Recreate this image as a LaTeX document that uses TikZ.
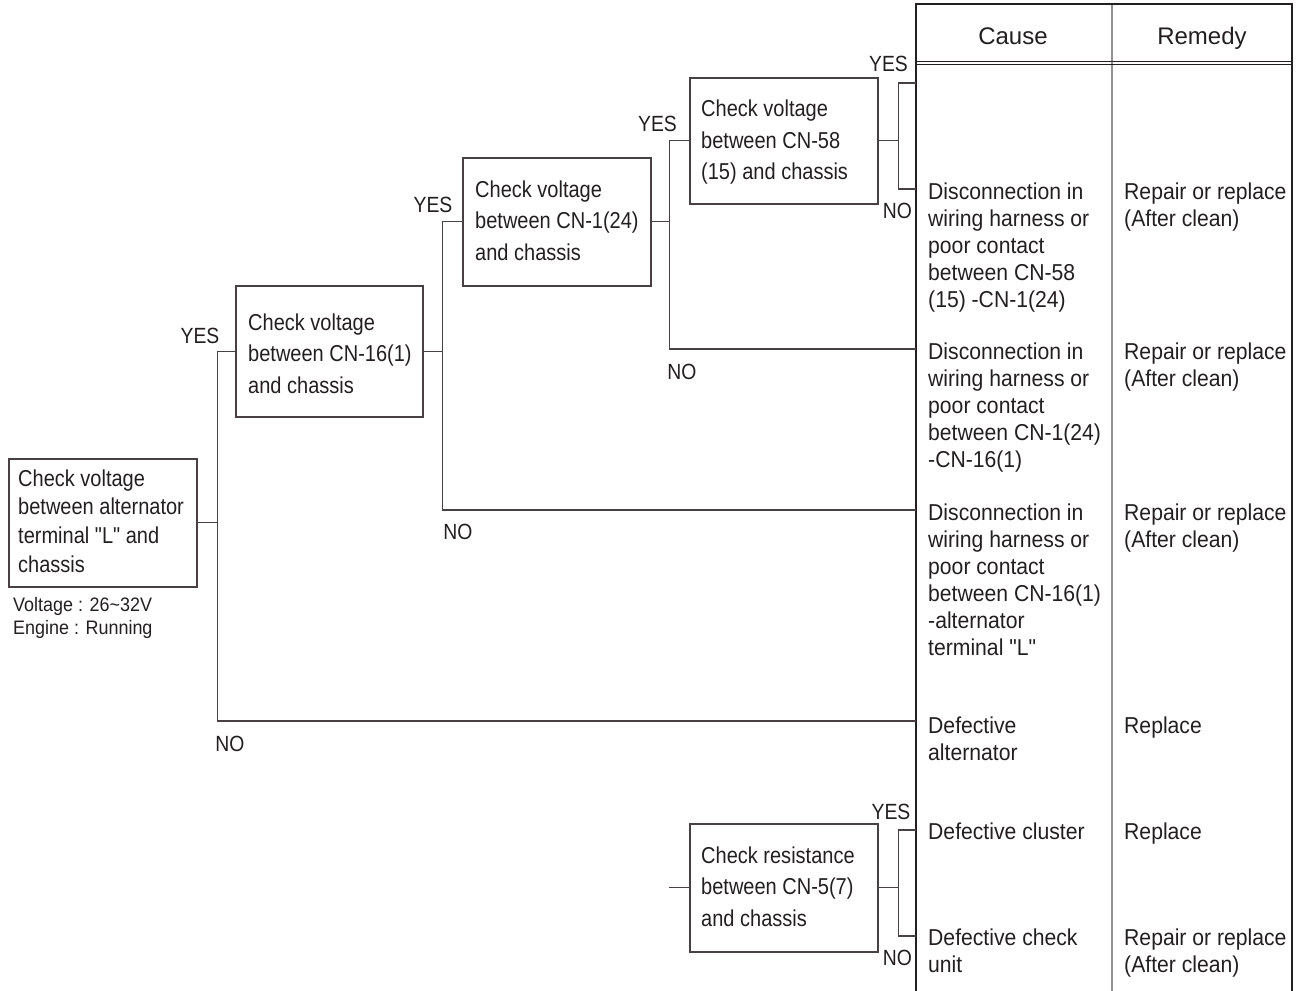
\documentclass[tikz,border=0pt]{standalone}
\usepackage{fontspec}
\setmainfont{Liberation Sans}[Ligatures=TeXOff]
\newfontfamily\hdrfont{Liberation Sans}[Ligatures=TeXOff]
\newfontfamily\tabfont{Liberation Sans}[FakeStretch=0.92,Ligatures=TeXOff]
\newfontfamily\boxfont{Liberation Sans}[FakeStretch=0.87,Ligatures=TeXOff]
\newfontfamily\lblfont{Liberation Sans}[FakeStretch=0.88,Ligatures=TeXOff]
\newfontfamily\notefont{Liberation Sans}[FakeStretch=0.92,Ligatures=TeXOff]
\definecolor{ink}{RGB}{35,31,32}
\definecolor{wire}{RGB}{72,64,66}
\newcommand\ml[1]{\parbox[t]{300pt}{\raggedright #1}}
\begin{document}
\begin{tikzpicture}[x=1pt,y=-1pt,
  box/.style={draw=wire, line width=1.6pt, inner sep=0pt, anchor=north west, minimum width=188pt, minimum height=128pt},
  wire/.style={draw=wire, line width=1.3pt},
  frame/.style={draw=ink, line width=2pt},
  sepline/.style={draw=gray!85, line width=1.3pt},
  btext/.style={anchor=base west, inner sep=0pt, text=ink, font=\boxfont\fontsize{23}{31.7}\selectfont},
  ttext/.style={anchor=base west, inner sep=0pt, text=ink, font=\tabfont\fontsize{23}{27}\selectfont},
  hdr/.style={anchor=base, inner sep=0pt, text=ink, font=\hdrfont\fontsize{24}{28}\selectfont},
  lbl/.style={anchor=base, inner sep=0pt, text=ink, font=\lblfont\fontsize{22}{26}\selectfont},
  note/.style={anchor=base west, inner sep=0pt, text=ink, font=\notefont\fontsize{19.5}{23.3}\selectfont}
]
\useasboundingbox (0,0) rectangle (1302,991);

% table frame
\draw[sepline] (1112,4) -- (1112,991);
\draw[frame] (916,991) -- (916,4) -- (1292,4) -- (1292,991);
\draw[ink, line width=1pt] (916,61.5) -- (1292,61.5);
\draw[ink, line width=1pt] (916,64.5) -- (1292,64.5);
\node[hdr] (hc) at (1013,44) {Cause};
\node[hdr] (hr) at (1202,44) {Remedy};

% boxes
\node[box] (A) at (8,458) {};
\node[box, minimum width=187pt, minimum height=131pt] (B) at (235,285) {};
\node[box] (C) at (462,157) {};
\node[box, minimum height=126pt] (D) at (689,77) {};
\node[box] (E) at (689,823) {};

\node[btext, font=\boxfont\fontsize{23}{28.7}\selectfont] (At) at (18,486) {\ml{Check voltage\\between alternator\\terminal "L" and\\chassis}};
\node[btext] (Bt) at (248,330) {\ml{Check voltage\\between CN-16(1)\\and chassis}};
\node[btext] (Ct) at (475,197) {\ml{Check voltage\\between CN-1(24)\\and chassis}};
\node[btext] (Dt) at (701,116.5) {\ml{Check voltage\\between CN-58\\(15) and chassis}};
\node[btext] (Et) at (701,863) {\ml{Check resistance\\between CN-5(7)\\and chassis}};

\node[note] (nt) at (13,611) {\ml{Voltage : 26\textasciitilde 32V\\Engine : Running}};

% connector end points on the table
\coordinate (tA) at (916,721);
\coordinate (tB) at (916,510);
\coordinate (tC) at (916,349);
\coordinate (tD1) at (916,83);
\coordinate (tD2) at (916,189);
\coordinate (tE1) at (916,830);
\coordinate (tE2) at (916,936);

\draw[wire] (A.east) -- ++(20,0) |- (B.west);
\draw[wire] (A.east) -- ++(20,0) |- (tA);
\draw[wire] (B.east) -- ++(19,0) |- (C.west);
\draw[wire] (B.east) -- ++(19,0) |- (tB);
\draw[wire] (C.east) -- ++(18,0) |- (D.west);
\draw[wire] (C.east) -- ++(18,0) |- (tC);
\draw[wire] (D.east) -- ++(20,0) |- (tD1);
\draw[wire] (D.east) -- ++(20,0) |- (tD2);
\draw[wire] (E.west) -- ++(-20,0) coordinate (eIn);
\draw[wire] (E.east) -- ++(20,0) |- (tE1);
\draw[wire] (E.east) -- ++(20,0) |- (tE2);

% YES / NO labels
\node[lbl] (y1) at (200,343) {YES};
\node[lbl] (n1) at (230,751) {NO};
\node[lbl] (y2) at (433,212) {YES};
\node[lbl] (n2) at (458,539) {NO};
\node[lbl] (y3) at (657.5,131) {YES};
\node[lbl] (n3) at (682,379) {NO};
\node[lbl] (y4) at (888.5,71) {YES};
\node[lbl] (n4) at (897.5,218) {NO};
\node[lbl] (y5) at (891,819) {YES};
\node[lbl] (n5) at (897.5,965) {NO};

% table entries
\node[ttext] (c1) at (928,199) {\ml{Disconnection in\\wiring harness or\\poor contact\\between CN-58\\(15) -CN-1(24)}};
\node[ttext] (r1) at (1124,199) {\ml{Repair or replace\\(After clean)}};
\node[ttext] (c2) at (928,359) {\ml{Disconnection in\\wiring harness or\\poor contact\\between CN-1(24)\\-CN-16(1)}};
\node[ttext] (r2) at (1124,359) {\ml{Repair or replace\\(After clean)}};
\node[ttext] (c3) at (928,520.5) {\ml{Disconnection in\\wiring harness or\\poor contact\\between CN-16(1)\\-alternator\\terminal "L"}};
\node[ttext] (r3) at (1124,520.5) {\ml{Repair or replace\\(After clean)}};
\node[ttext] (c4) at (928,733) {\ml{Defective\\alternator}};
\node[ttext] (r4) at (1124,733) {Replace};
\node[ttext] (c5) at (928,839) {Defective cluster};
\node[ttext] (r5) at (1124,839) {Replace};
\node[ttext] (c6) at (928,945) {\ml{Defective check\\unit}};
\node[ttext] (r6) at (1124,945) {\ml{Repair or replace\\(After clean)}};
\end{tikzpicture}
\end{document}
